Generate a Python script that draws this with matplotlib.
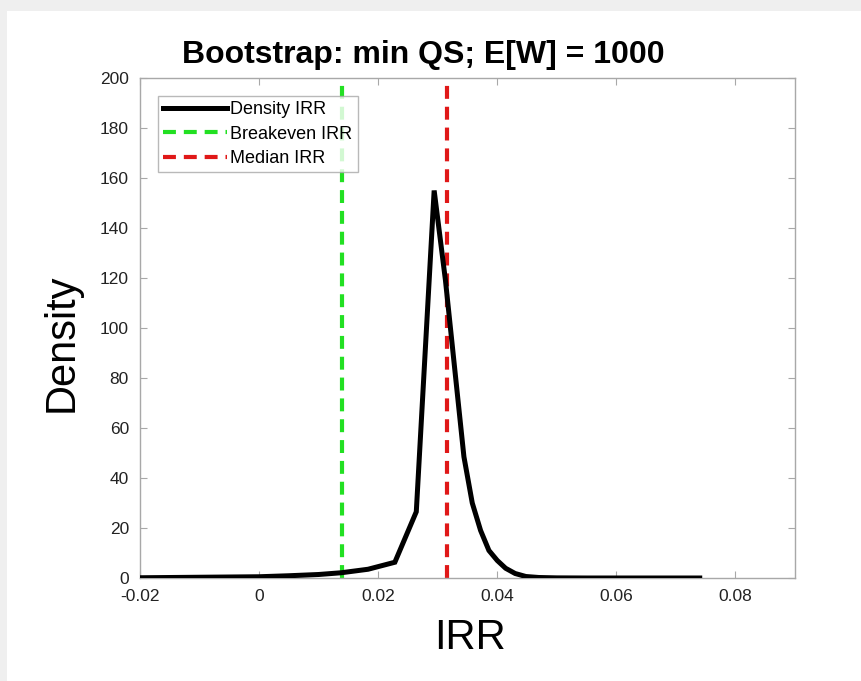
import matplotlib
matplotlib.use("Agg")
import matplotlib.pyplot as plt
from matplotlib.patches import Rectangle

# ---- data ----
irr_grid = [-0.02, -0.01, 0.0, 0.005, 0.010, 0.0138, 0.0183, 0.0228, 0.0264,
            0.0294, 0.0313, 0.0344, 0.0358, 0.0372, 0.0386, 0.0400, 0.0414,
            0.0430, 0.0448, 0.047, 0.050, 0.055, 0.074]
density = [0.1, 0.3, 0.5, 0.9, 1.4, 2.1, 3.5, 6.3, 26.5,
           155, 119, 48.5, 30, 19, 11, 7, 3.9,
           1.8, 0.6, 0.2, 0.05, 0.0, 0.0]
breakeven_irr = 0.0139
median_irr = 0.0315
x_ticks = [-0.02, 0, 0.02, 0.04, 0.06, 0.08]
x_tick_labels = ["-0.02", "0", "0.02", "0.04", "0.06", "0.08"]
y_ticks = list(range(0, 201, 20))

plt.rcParams['font.family'] = ['Liberation Sans', 'DejaVu Sans']

W, H = 861, 681
fig = plt.figure(figsize=(W / 100, H / 100), dpi=100)
fig.patch.set_facecolor('#efefef')
fig.patches.append(Rectangle((7 / W, 0), 1 - 7 / W, 1 - 11 / H, transform=fig.transFigure,
                             facecolor='white', edgecolor='none', zorder=-10))

ax = fig.add_axes([140 / W, 1 - 578 / H, (795 - 140) / W, (578 - 78) / H])
ax.set_facecolor('white')

ax.plot(irr_grid, density, color='black', lw=3.6, solid_joinstyle='miter',
        label='Density IRR', zorder=3)
ax.axvline(breakeven_irr, color='#22e022', lw=3, dashes=(3.1, 1.9),
           label='Breakeven IRR', zorder=2)
ax.axvline(median_irr, color='#e01818', lw=3, dashes=(3.1, 1.9),
           label='Median IRR', zorder=2)

ax.set_xlim(-0.02, 0.09)
ax.set_ylim(0, 200)
ax.set_xticks(x_ticks)
ax.set_xticklabels(x_tick_labels)
ax.set_yticks(y_ticks)

for sp in ax.spines.values():
    sp.set_color('#a8a8a8')
    sp.set_linewidth(1.0)
ax.tick_params(direction='in', length=5, width=0.8, color='#a8a8a8',
               top=True, right=True, labelsize=12.5, labelcolor='#222222', pad=8)

ax.set_xlabel('IRR', fontsize=30, labelpad=12)
ax.xaxis.set_label_coords((470 - 140) / (795 - 140), -(638 - 578) / 500 - 0.0)
ax.xaxis.label.set_va('center')
ax.set_ylabel('Density', fontsize=30)
ax.yaxis.set_label_coords(-(140 - 62) / (795 - 140), (578 - 343) / 500)
ax.yaxis.label.set_va('center')

fig.text(423 / W, 1 - 55 / H, 'Bootstrap: min QS; E[W] = 1000', fontsize=23,
         fontweight='bold', ha='center', va='center')

leg = ax.legend(loc='upper left', bbox_to_anchor=((158 - 140) / (795 - 140), 1 - (96 - 78) / 500),
                fontsize=13, frameon=True, fancybox=False, handlelength=3.5,
                handletextpad=0.2, borderpad=0.3, labelspacing=0.4, borderaxespad=0)
leg.get_frame().set_edgecolor('#a8a8a8')
leg.get_frame().set_linewidth(1.0)

fig.savefig('out.png', dpi=100, facecolor=fig.get_facecolor())
